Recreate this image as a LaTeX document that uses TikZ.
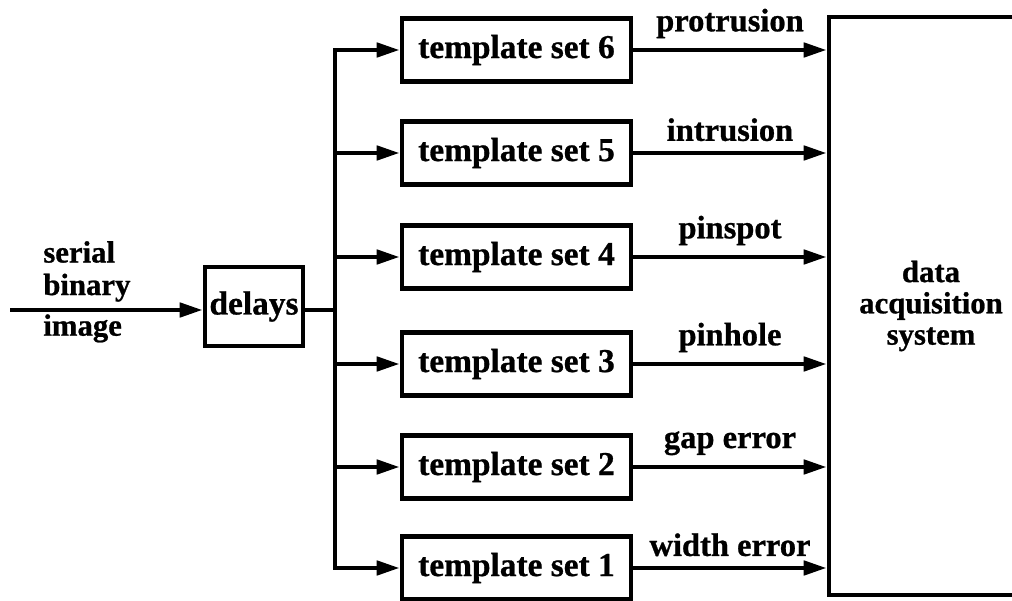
\documentclass[tikz,border=0pt]{standalone}
\usepackage{fontspec}
\setmainfont{Liberation Serif}[BoldFeatures={FakeBold=0.8}]
\usetikzlibrary{arrows.meta}

\tikzset{
  wire/.style={line width=2.6pt},
  feed/.style={wire, -{Triangle[length=4.6mm,width=2.8mm]}},
  blockbox/.style={draw, line width=2.6pt, inner sep=0pt, align=center,
    font=\bfseries\fontsize{19}{21}\selectfont},
  tmpl/.style={blockbox, minimum width=4.58cm, minimum height=1.26cm},
  sig/.style={inner sep=0pt, above=0.19cm, font=\bfseries\fontsize{18.5}{20}\selectfont},
  inlabel/.style={inner sep=0pt, align=left, font=\bfseries\fontsize{17.5}{18.5}\selectfont},
}

\begin{document}
\begin{tikzpicture}[x=0.02cm, y=-0.02cm]
  \clip (0,0) rectangle (1012,601);
  \fill[white] (0,0) rectangle (1012,601);

  % input line and delay stage
  \coordinate (in) at (10,310);
  \node[blockbox, minimum width=1.96cm, minimum height=1.58cm] (delays) at (254,306.5) {delays};
  \draw[feed] (in) -- (in -| delays.west);
  \node[inlabel, anchor=south west] (inA) at (43,302) {serial\\binary};
  \node[inlabel, anchor=north west] (inB) at (43,314) {image};

  % distribution bus
  \coordinate (busTop) at (335,50);
  \coordinate (busBot) at (335,568);
  \draw[wire] (delays.east |- in) -- (in -| busTop);
  \draw[wire, line cap=rect] (busTop) -- (busBot);

  % data acquisition block
  \node[blockbox, minimum width=4.08cm, minimum height=11.56cm,
        font=\bfseries\fontsize{17.5}{17.8}\selectfont] (daq) at (931,306)
        {data\\acquisition\\system};

  % template sets with their outputs
  \foreach \n/\yy/\lab in {6/50/protrusion, 5/153/intrusion, 4/257/pinspot,
                           3/364/pinhole, 2/467/gap error, 1/568/width error}{
    \node[tmpl] (t\n) at (516.5,\yy) {template set \n};
    \draw[feed] (busTop |- t\n.west) -- (t\n.west);
    \draw[feed] (t\n.east) -- node[sig] (s\n) {\lab} (t\n.east -| daq.west);
  }
\end{tikzpicture}
\end{document}
